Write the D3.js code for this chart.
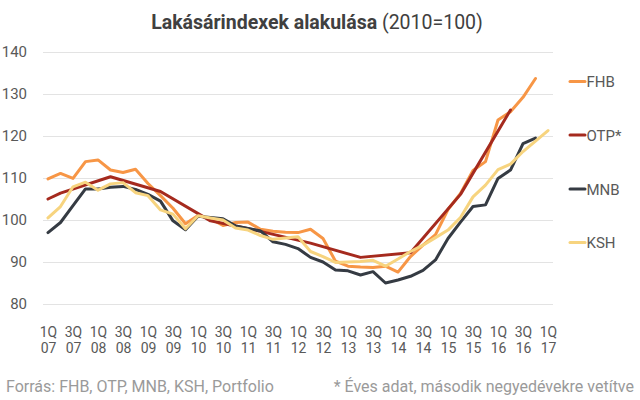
<!DOCTYPE html>
<html>
<head>
<meta charset="utf-8">
<script src="https://cdn.jsdelivr.net/npm/d3@7"></script>
<style>
  html, body { margin: 0; padding: 0; background: #fff; }
  svg { display: block; font-family: Roboto, "Noto Sans", sans-serif; }
</style>
</head>
<body>
<svg id="chart" width="640" height="400"></svg>
<script>
// ---- data ----
const years = ["07","08","09","10","11","12","13","14","15","16","17"];
const quarters = [];
years.forEach(y => ["1Q","2Q","3Q","4Q"].forEach(q => quarters.push(q + " " + y)));
quarters.length = 41; // 1Q07 .. 1Q17

const yTicks = [80, 90, 100, 110, 120, 130, 140];

const fhb = [109.8, 111.1, 109.9, 113.9, 114.3, 111.9, 111.3, 112.1, 108.7, 105.8,
             102.8, 99.1, 101.1, 100.3, 98.7, 99.4, 99.5, 97.8, 97.3, 97.1,
             97.0, 97.8, 95.6, 90.2, 89.0, 88.8, 88.7, 89.0, 87.6, 91.3,
             94.0, 96.5, 102.5, 106.3, 111.8, 113.9, 123.8, 125.8, 129.2, 133.7,
             null];

// OTP: annual data, placed on second quarters
const otp = [105.0, 106.4, null, null, null, 110.3, null, null, null, 106.8,
             null, null, null, 99.8, null, null, null, 97.3, null, null,
             null, 94.5, null, null, null, 91.1, null, null, null, 92.2,
             null, null, null, 106.1, null, null, null, 126.2, null, null,
             null];

const mnb = [97.0, 99.4, 103.4, 107.4, 107.4, 107.8, 108.0, 107.3, 106.1, 104.5,
             99.8, 97.7, 100.9, 100.6, 100.3, 98.6, 98.0, 97.4, 94.8, 94.2,
             93.2, 91.1, 90.0, 88.1, 87.9, 86.9, 87.7, 85.0, 85.7, 86.6,
             88.0, 90.5, 95.6, 99.5, 103.2, 103.6, 109.9, 111.9, 118.2, 119.5,
             null];

const ksh = [100.5, 103.2, 107.9, 109.0, 107.1, 108.6, 108.9, 106.5, 105.8, 102.4,
             101.4, 97.9, 101.0, 100.5, 100.0, 98.1, 97.6, 96.3, 95.4, 95.7,
             96.0, 92.5, 91.3, 89.9, 90.0, 90.1, 90.4, 89.0, 90.7, 92.5,
             94.0, 95.8, 97.6, 100.6, 105.5, 108.3, 112.0, 113.3, 116.3, 118.8,
             121.3];

const seriesNames = ["FHB", "OTP*", "MNB", "KSH"];
const seriesValues = [fhb, otp, mnb, ksh];
const seriesColors = ["#f79646", "#a52a1e", "#353b43", "#f7d47f"];

// ---- chart ----
const svg = d3.select("#chart");

const x = d3.scalePoint().domain(quarters).range([48, 548]);
const y = d3.scaleLinear().domain([80, 140]).range([304, 52]);

// title
const title = svg.append("text")
  .attr("x", 317).attr("y", 29)
  .attr("text-anchor", "middle")
  .attr("font-size", 19.5)
  .attr("fill", "#404040");
title.append("tspan").attr("font-weight", "bold").text("Lakásárindexek alakulása");
title.append("tspan").text(" (2010=100)");

// gridlines
const grid = d3.axisLeft(y).tickValues(yTicks).tickSize(-(553 - 43)).tickFormat("");
const gg = svg.append("g").attr("transform", "translate(43,0)").call(grid);
gg.select(".domain").remove();
gg.selectAll("line").attr("stroke", "#e3e3e3").attr("stroke-width", 1);

// y axis
const yAxis = d3.axisLeft(y).tickValues(yTicks).tickSize(0).tickPadding(0);
const gy = svg.append("g").attr("transform", "translate(27,0)").call(yAxis);
gy.select(".domain").remove();
gy.selectAll("text").attr("font-size", 15).attr("fill", "#595959")
  .attr("font-family", "Roboto, sans-serif");

// x axis (two-line labels, each line its own text)
const xTickVals = quarters.filter(q => q.startsWith("1Q") || q.startsWith("3Q"));
const xAxis = d3.axisBottom(x).tickValues(xTickVals).tickSize(0).tickFormat("");
const gx = svg.append("g").attr("transform", "translate(0,318)").call(xAxis);
gx.select(".domain").remove();
gx.selectAll(".tick").each(function(d) {
  const parts = d.split(" ");
  const g = d3.select(this);
  g.append("text")
    .attr("text-anchor", "middle").attr("font-size", 14).attr("fill", "#595959")
    .attr("font-family", "Roboto, sans-serif")
    .attr("y", 19).text(parts[0]);
  g.append("text")
    .attr("text-anchor", "middle").attr("font-size", 14).attr("fill", "#595959")
    .attr("font-family", "Roboto, sans-serif")
    .attr("y", 35).text(parts[1]);
});

// lines
const line = d3.line()
  .x(d => x(d.q))
  .y(d => y(d.v));

seriesValues.forEach((vals, i) => {
  const pts = quarters.map((q, j) => ({ q: q, v: vals[j] })).filter(d => d.v != null);
  svg.append("path")
    .datum(pts)
    .attr("fill", "none")
    .attr("stroke", seriesColors[i])
    .attr("stroke-width", 3)
    .attr("stroke-linejoin", "round")
    .attr("stroke-linecap", "round")
    .attr("d", line);
});

// legend
const legendY = [81.5, 135, 189, 242.5];
seriesNames.forEach((name, i) => {
  const g = svg.append("g").attr("transform", `translate(570,${legendY[i]})`);
  g.append("line").attr("x1", 0).attr("x2", 15).attr("y1", 0).attr("y2", 0)
    .attr("stroke", seriesColors[i]).attr("stroke-width", 3).attr("stroke-linecap", "round");
  g.append("text").attr("x", 16.5).attr("y", 5.5)
    .attr("font-size", 15).attr("fill", "#595959").text(name);
});

// footers
svg.append("text").attr("x", 6).attr("y", 392)
  .attr("font-size", 16).attr("fill", "#9a9a9a")
  .text("Forrás: FHB, OTP, MNB, KSH, Portfolio");
svg.append("text").attr("x", 634).attr("y", 392)
  .attr("text-anchor", "end")
  .attr("font-size", 16).attr("fill", "#9a9a9a")
  .text("* Éves adat, második negyedévekre vetítve");
</script>
</body>
</html>
